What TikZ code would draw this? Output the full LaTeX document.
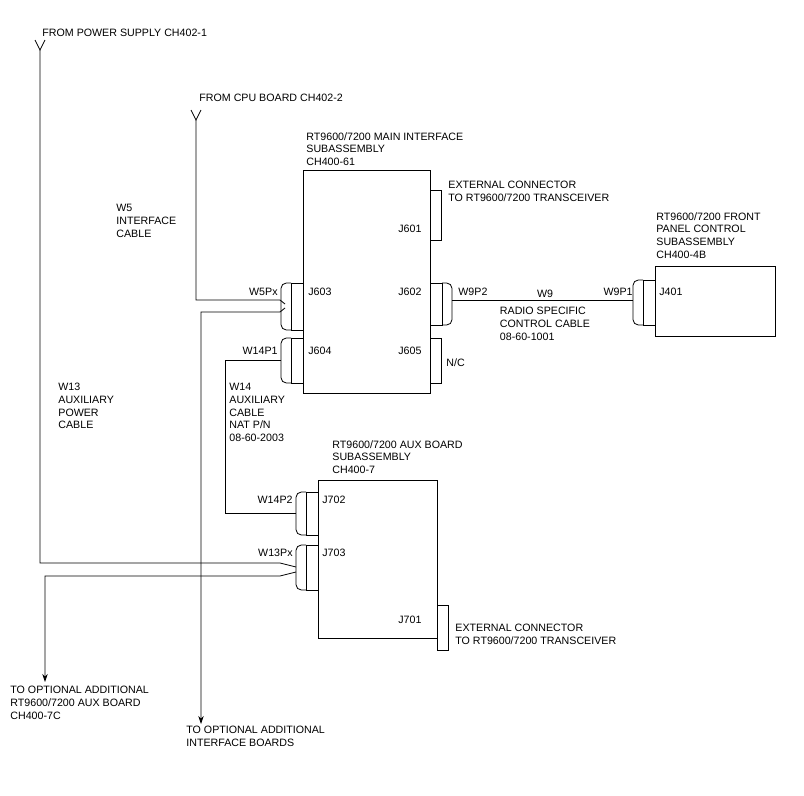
\documentclass[tikz,border=0pt]{standalone}
\usepackage{fontspec}
\setmainfont{Liberation Sans}
\usetikzlibrary{arrows.meta}
\begin{document}
\begin{tikzpicture}[x=0.75pt,y=-0.75pt,line width=0.6pt,
  lbl/.style={font=\fontsize{8}{9.5}\selectfont,inner sep=0pt,align=left},
  arr/.style={-{Stealth[length=6pt,width=4pt]}}]
\useasboundingbox (0,0) rectangle (804,796);
% boxes
\draw (303,170) rectangle (430,393);
\draw (318,480) rectangle (437,638);
\draw (655,266) rectangle (775,336);
% left plugs: inner rect and rounded outer
\newcommand{\lplug}[3]{\draw (#1-12,#2) rectangle (#1,#3);
  \draw[rounded corners=4pt] (#1-12,#2) -- (#1-22,#2) -- (#1-22,#3) -- (#1-12,#3);}
\newcommand{\rplug}[3]{\draw (#1,#2) rectangle (#1+12,#3);
  \draw[rounded corners=4pt] (#1+12,#2) -- (#1+22,#2) -- (#1+22,#3) -- (#1+12,#3);}
\lplug{303}{283}{330}
\lplug{303}{338}{383}
\lplug{318}{492}{535}
\lplug{318}{545}{590}
\lplug{655}{280}{325}
\rplug{430}{283}{325}
% right sockets
\draw (430,190) rectangle (441,240);
\draw (430,338) rectangle (441,383);
\draw (437,605) rectangle (448,650);
% power supply line
\draw (35,40) -- (40,50) -- (45,40);
\coordinate (ps) at (40,50);
\coordinate (w13a) at (280,563);
\draw (ps) -- (40,563) -- (w13a) -- (296,567);
\draw[arr] (296,572) -- (280,576) -- (45,576) -- (45,682);
% cpu line
\draw (191,110) -- (196,120) -- (201,110);
\draw (196,120) -- (196,300) -- (280,300) -- (285,304);
\draw[arr] (285,308) -- (280,312) -- (201,312) -- (201,724);
% W14
\draw (281,360) -- (225,360) -- (225,513) -- (296,513);
% W9
\draw (452,300) -- (633,300);
% texts
\node[lbl,anchor=west] at (42,33) {FROM POWER SUPPLY CH402-1};
\node[lbl,anchor=west] at (199,98) {FROM CPU BOARD CH402-2};
\node[lbl,anchor=north west] at (306,132) {RT9600/7200 MAIN INTERFACE\\SUBASSEMBLY\\CH400-61};
\node[lbl,anchor=north west] at (448,181) {EXTERNAL CONNECTOR\\TO RT9600/7200 TRANSCEIVER};
\node[lbl,anchor=north west] at (656,212) {RT9600/7200 FRONT\\PANEL CONTROL\\SUBASSEMBLY\\CH400-4B};
\node[lbl,anchor=north west] at (116,204) {W5\\INTERFACE\\CABLE};
\node[lbl,anchor=east] at (278,292) {W5Px};
\node[lbl,anchor=west] at (308,292) {J603};
\node[lbl,anchor=west] at (398,229) {J601};
\node[lbl,anchor=west] at (398,292) {J602};
\node[lbl,anchor=west] at (458,292) {W9P2};
\node[lbl] at (545,294) {W9};
\node[lbl,anchor=east] at (633,292) {W9P1};
\node[lbl,anchor=west] at (659,292) {J401};
\node[lbl,anchor=north] at (545,307) {RADIO SPECIFIC\\CONTROL CABLE\\08-60-1001};
\node[lbl,anchor=east] at (278,351) {W14P1};
\node[lbl,anchor=west] at (308,351) {J604};
\node[lbl,anchor=west] at (398,351) {J605};
\node[lbl,anchor=west] at (446,363) {N/C};
\node[lbl,anchor=north west] at (58,383) {W13\\AUXILIARY\\POWER\\CABLE};
\node[lbl,anchor=north west] at (229,383) {W14\\AUXILIARY\\CABLE\\NAT P/N\\08-60-2003};
\node[lbl,anchor=north west] at (332,440) {RT9600/7200 AUX BOARD\\SUBASSEMBLY\\CH400-7};
\node[lbl,anchor=east] at (293,500) {W14P2};
\node[lbl,anchor=west] at (322,500) {J702};
\node[lbl,anchor=east] at (293,553) {W13Px};
\node[lbl,anchor=west] at (322,553) {J703};
\node[lbl,anchor=west] at (398,620) {J701};
\node[lbl,anchor=north west] at (455,624) {EXTERNAL CONNECTOR\\TO RT9600/7200 TRANSCEIVER};
\node[lbl,anchor=north west] at (10,686) {TO OPTIONAL ADDITIONAL\\RT9600/7200 AUX BOARD\\CH400-7C};
\node[lbl,anchor=north west] at (186,726) {TO OPTIONAL ADDITIONAL\\INTERFACE BOARDS};
\end{tikzpicture}
\end{document}
